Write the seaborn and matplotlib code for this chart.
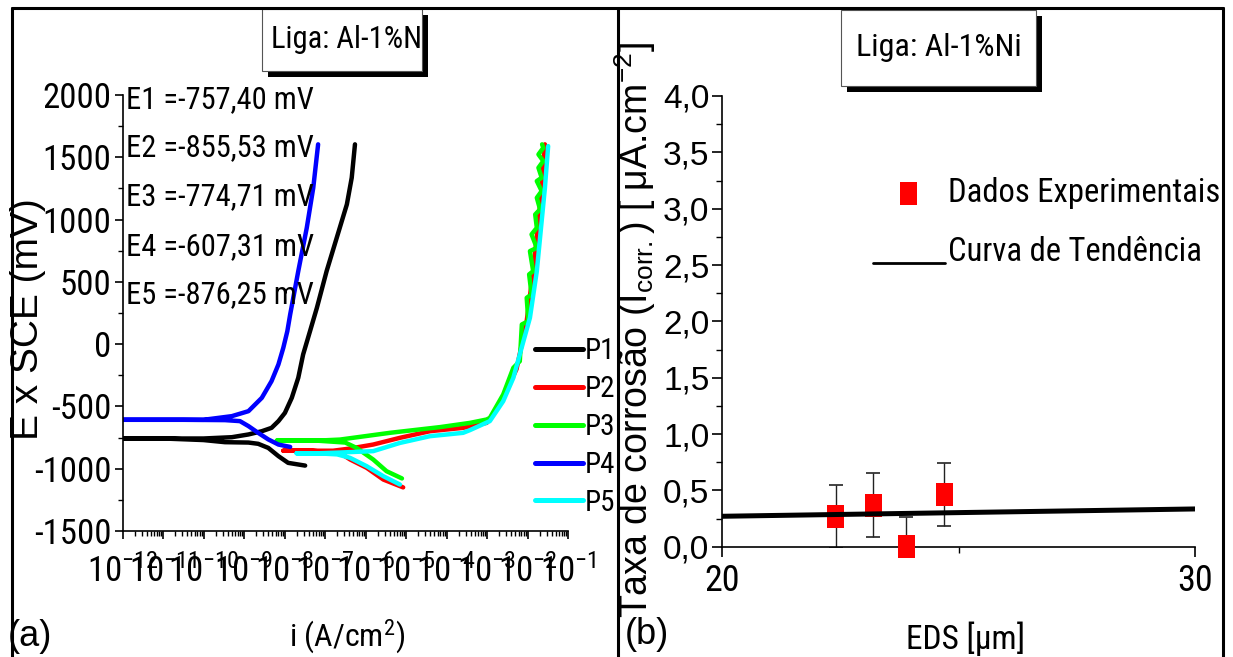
import numpy as np
import pandas as pd
import matplotlib
matplotlib.use("Agg")
import matplotlib.pyplot as plt
import seaborn as sns
from matplotlib import font_manager
from matplotlib.font_manager import FontProperties
from matplotlib.patches import Rectangle
from matplotlib.lines import Line2D
from matplotlib.path import Path
from matplotlib.transforms import Bbox, TransformedBbox
from matplotlib.ticker import LogLocator, FuncFormatter, MultipleLocator, FixedLocator, NullFormatter
from matplotlib.legend_handler import HandlerLine2D

# ---------------- (a) potentiodynamic polarization curves ----------------
CURVES = ["P1", "P2", "P3", "P4", "P5"]
COLORS = ["#000000", "#ff0000", "#00ff00", "#0000ff", "#00ffff"]
ECORR = [-757.40, -855.53, -774.71, -607.31, -876.25]  # mV

# each scan: cathodic branch -> corrosion potential -> anodic branch
# current as log10(i / A.cm^-2), potential in mV
P1_LOG_I = [-7.49, -7.91, -8.15, -8.40, -8.65, -8.89, -9.47, -10.0,
            -11.0, -12.0, -11.0, -10.0,
            -9.30, -8.89, -8.56, -8.32, -8.15, -7.99, -7.82, -7.66, -7.54,
            -7.37, -7.20, -6.96, -6.71, -6.46, -6.34, -6.26]
P1_E = [-975, -953, -899, -833, -800, -790, -787, -770,
        *[ECORR[0]] * 4,
        -747, -725, -699, -672, -618, -552, -431, -270, -83,
        104, 292, 586, 854, 1122, 1336, 1604]

P2_LOG_I = [-5.07, -5.56, -5.97, -6.38, -6.60,
            -7.30, -8.03, -7.30, -6.80,
            -6.38, -5.81, -5.15, -4.41, -3.59, -3.01, -2.93, -2.60, -2.27,
            -2.02, -1.86, -1.73, -1.65, -1.57]
P2_E = [-1150, -1087, -993, -926, -880,
        *[ECORR[1]] * 4,
        -838, -806, -752, -699, -672, -632, -600, -431, -200,
        185, 586, 988, 1255, 1604]

P3_LOG_I = [-5.10, -5.48, -5.81, -6.22, -6.50,
            -7.20, -8.19, -7.20,
            -6.63, -5.40, -4.16, -3.42, -3.01, -2.93, -2.60, -2.35, -2.19,
            -2.14, -1.98, -2.02, -1.90, -1.96, -1.86, -1.94, -1.77, -1.90,
            -1.77, -1.81, -1.69, -1.77, -1.65, -1.77, -1.65, -1.73, -1.61,
            -1.73, -1.61, -1.64]
P3_E = [-1078, -1020, -926, -833, -790,
        *[ECORR[2]] * 3,
        -766, -712, -666, -632, -605, -592, -404, -190, -137,
        158, 185, 372, 399, 560, 586, 747, 773, 881,
        934, 1041, 1082, 1175, 1229, 1309, 1336, 1416, 1470,
        1523, 1576, 1604]

P4_LOG_I = [-7.86, -8.15, -8.40, -8.65, -8.89, -9.10, -9.47,
            -10.5, -12.0, -10.5, -10.0,
            -9.30, -8.89, -8.56, -8.32, -8.15, -8.03, -7.93, -7.86, -7.66,
            -7.45, -7.29, -7.17]
P4_E = [-825, -806, -765, -712, -658, -618, -610,
        *[ECORR[3]] * 4,
        -578, -538, -431, -297, -163, -30, 104, 238, 586,
        934, 1255, 1604]

P5_LOG_I = [-5.15, -5.56, -5.97, -6.38, -6.70,
            -7.20, -7.70, -7.20,
            -6.63, -5.81, -5.15, -4.41, -3.59, -3.42, -2.93, -2.60, -2.35,
            -2.10, -1.94, -1.77, -1.65, -1.57, -1.49]
P5_E = [-1127, -1060, -980, -913, -885,
        *[ECORR[4]] * 3,
        -870, -859, -793, -739, -712, -690, -618, -458, -271,
        24, 211, 586, 988, 1255, 1590]

# ---------------- (b) corrosion rate vs. EDS spacing ----------------
EDS_UM = [22.4, 23.2, 23.9, 24.7]
ICORR = [0.27, 0.37, 0.00, 0.46]          # uA.cm^-2
ICORR_ERR = [0.28, 0.28, 0.26, 0.28]
TREND_X = [20, 30]
TREND_Y = [0.27, 0.335]

# ---------------- style ----------------
sns.set_theme(style="ticks")

REGULAR = "Liberation Sans"
STRETCH_RANK = {"condensed": 0, "semi-condensed": 1, "extra-condensed": 2,
                "ultra-condensed": 3}
FAMILY_RANK = {"Liberation Sans Narrow": 0, "Arial Narrow": 1, "Roboto Condensed": 2,
               "Noto Sans": 3, "Open Sans": 4, "Open Sans Condensed": 4,
               "DejaVu Sans": 5, "DejaVu Sans Condensed": 5}


def find_narrow_font():
    """Pick an installed regular-weight condensed sans face, if there is one."""
    best = None
    for f in font_manager.fontManager.ttflist:
        low = f.fname.lower()
        narrow = (f.stretch in STRETCH_RANK or "narrow" in low or "condensed" in low)
        if not narrow or f.style != "normal":
            continue
        if str(f.weight).lower() not in ("400", "normal", "regular", "book"):
            continue
        if "mono" in low or ("serif" in low and "sans" not in low):
            continue
        key = (FAMILY_RANK.get(f.name, 9),
               STRETCH_RANK.get(f.stretch, 0 if "narrow" in low else 1))
        if best is None or key < best[0]:
            best = (key, f.fname)
    return best[1] if best else None


NARROW_FILE = find_narrow_font()
NARROW_SCALE = 1.0 if NARROW_FILE else 0.8


def nfont(size):
    if NARROW_FILE:
        return FontProperties(fname=NARROW_FILE, size=size)
    return FontProperties(family=REGULAR, size=size * NARROW_SCALE)


def rfont(size):
    return FontProperties(family=REGULAR, size=size)


plt.rcParams.update({
    "font.family": [REGULAR, "DejaVu Sans"],
    "axes.unicode_minus": False,
    "mathtext.default": "regular",
    "axes.edgecolor": "black",
    "axes.labelcolor": "black",
    "axes.linewidth": 1.2,
    "xtick.color": "black",
    "ytick.color": "black",
    "text.color": "black",
})

W, H = 1233, 657
fig = plt.figure(figsize=(W / 100, H / 100), dpi=100)
fig.patch.set_facecolor("white")


def fx(px):
    return px / W


def fy(py):
    return 1 - py / H


ax1 = fig.add_axes([fx(122.5), fy(531), (568 - 122.5) / W, (531 - 95) / H])
ax2 = fig.add_axes([fx(722), fy(546.7), (1195 - 722) / W, (546.7 - 96) / H])
for ax in (ax1, ax2):
    ax.set_facecolor("white")
    ax.spines["top"].set_visible(False)
    ax.spines["right"].set_visible(False)

# region of the left panel, used to clip texts at the panel divider
left_panel_clip = TransformedBbox(Bbox([[0, 0], [fx(617), 1]]), fig.transFigure)

# ---- panel (a) ----
ax1.set_xscale("log")
frames = []
for name, li, e in zip(CURVES,
                       [P1_LOG_I, P2_LOG_I, P3_LOG_I, P4_LOG_I, P5_LOG_I],
                       [P1_E, P2_E, P3_E, P4_E, P5_E]):
    frames.append(pd.DataFrame({"curve": name, "i": 10.0 ** np.asarray(li), "E": e}))
curves = pd.concat(frames, ignore_index=True)
sns.lineplot(data=curves, x="i", y="E", hue="curve", hue_order=CURVES,
             palette=dict(zip(CURVES, COLORS)), sort=False, estimator=None,
             lw=3.2, solid_joinstyle="round", solid_capstyle="round", ax=ax1)

ax1.set_xlim(1e-12, 1e-1)
ax1.set_ylim(-1500, 2000)
ax1.yaxis.set_major_locator(MultipleLocator(500))
ax1.yaxis.set_minor_locator(MultipleLocator(250))
ax1.xaxis.set_major_locator(LogLocator(base=10, numticks=20))
ax1.xaxis.set_minor_locator(LogLocator(base=10, subs=np.arange(2, 10), numticks=20))
ax1.xaxis.set_minor_formatter(NullFormatter())
ax1.xaxis.set_major_formatter(FuncFormatter(
    lambda v, p: r"$\mathregular{10^{%d}}$" % int(round(np.log10(v)))))
ax1.tick_params(axis="both", which="major", direction="out", length=6, width=1.2)
ax1.tick_params(axis="both", which="minor", direction="out", length=3.5, width=1.0)
ax1.tick_params(axis="x", pad=11)
ax1.tick_params(axis="y", pad=2)

ax1.set_ylabel("E x SCE (mV)", fontproperties=rfont(28))
ax1.yaxis.set_label_coords(-0.172, 0.486)
ax1.set_xlabel(r"i (A/cm$^{2}$)", fontproperties=nfont(23))
ax1.xaxis.set_label_coords(0.504, -0.197)

handles, labels = ax1.get_legend_handles_labels()
leg1 = ax1.legend(handles, labels, loc="upper left", frameon=False,
                  bbox_to_anchor=(fx(535), fy(337)), bbox_transform=fig.transFigure,
                  prop=nfont(21), handlelength=1.65,
                  handletextpad=0.07, labelspacing=0.34, borderpad=0, borderaxespad=0)
for h in leg1.legend_handles:
    h.set_linewidth(3.6)
for t in leg1.get_texts():
    t.set_clip_box(left_panel_clip)
    t.set_clip_on(True)

for k, (ec, ypx) in enumerate(zip(ECORR, [100, 148, 197, 247, 295])):
    txt = f"E{k + 1} ={ec:.2f} mV".replace(".", ",")
    fig.text(fx(126), fy(ypx), txt, fontproperties=nfont(22), va="center", ha="left")

# ---- panel (b) ----
rect_marker = Path([(-0.37, -0.5), (0.37, -0.5), (0.37, 0.5), (-0.37, 0.5), (-0.37, -0.5)],
                   closed=True)
ax2.errorbar(EDS_UM, ICORR, yerr=ICORR_ERR, fmt="none", ecolor="#222222",
             elinewidth=1.0, capsize=4.7, capthick=1.2, zorder=2)
sns.scatterplot(x=EDS_UM, y=ICORR, marker=rect_marker, s=274, color="#ff0000",
                edgecolor="none", linewidth=0, clip_on=False, zorder=3, ax=ax2,
                label="Dados Experimentais")
sns.lineplot(x=TREND_X, y=TREND_Y, color="black", lw=3.6, zorder=4, ax=ax2,
             label="Curva de Tendência")

ax2.set_xlim(20, 30)
ax2.set_ylim(0, 4)
ax2.xaxis.set_major_locator(FixedLocator([20, 30]))
ax2.xaxis.set_minor_locator(FixedLocator([25]))
ax2.yaxis.set_major_locator(MultipleLocator(0.5))
ax2.yaxis.set_minor_locator(MultipleLocator(0.25))
ax2.yaxis.set_major_formatter(FuncFormatter(lambda v, p: f"{v:.1f}".replace(".", ",")))
ax2.tick_params(axis="both", which="major", direction="out", length=7, width=1.2)
ax2.tick_params(axis="both", which="minor", direction="out", length=4, width=1.0)
ax2.tick_params(axis="x", pad=5)
ax2.tick_params(axis="y", pad=2)

ax2.set_ylabel(r"Taxa de corrosão (I$_{corr.}$) [ μA.cm$^{-2}$]", fontproperties=rfont(27))
ax2.yaxis.set_label_coords(-0.135, 0.481)
ax2.set_xlabel("EDS [μm]", fontproperties=nfont(24))
ax2.xaxis.set_label_coords(0.514, -0.165)


class LoweredLine(HandlerLine2D):
    """Legend line drawn near the text baseline, like an underscore."""

    def create_artists(self, legend, orig_handle, xdescent, ydescent, width, height,
                       fontsize, trans):
        arts = super().create_artists(legend, orig_handle, xdescent, ydescent, width,
                                      height, fontsize, trans)
        for a in arts:
            a.set_ydata(np.asarray(a.get_ydata(), dtype=float) - 0.6 * height)
        return arts


h2, l2 = ax2.get_legend_handles_labels()
leg2 = ax2.legend(h2, l2, loc="upper left", frameon=False,
                  bbox_to_anchor=(fx(873), fy(177)), bbox_transform=fig.transFigure,
                  prop=nfont(23.5), handlelength=2.2,
                  handletextpad=0.1, labelspacing=0.82, borderpad=0, borderaxespad=0,
                  handler_map={Line2D: LoweredLine()})
for h in leg2.legend_handles:
    if isinstance(h, Line2D):
        h.set_linewidth(2.0)

# ---- panel tags ----
fig.text(fx(30), fy(637), "(a)", fontproperties=rfont(26), ha="center", va="center")
fig.text(fx(647), fy(635), "(b)", fontproperties=rfont(26), ha="center", va="center")

# ---- title boxes with drop shadow ----
for (x0, y0, x1, y1), tx, ha, size in [((262, 9, 422, 71), 271, "left", 22),
                                       ((841, 10, 1036, 86), 939, "center", 23)]:
    shadow = Rectangle((fx(x0 + 6), fy(y1 + 6)), (x1 - x0) / W, (y1 - y0) / H,
                       transform=fig.transFigure, facecolor="black", edgecolor="none",
                       zorder=5)
    box = Rectangle((fx(x0), fy(y1)), (x1 - x0) / W, (y1 - y0) / H,
                    transform=fig.transFigure, facecolor="white", edgecolor="#555555",
                    lw=0.8, zorder=6)
    fig.add_artist(shadow)
    fig.add_artist(box)
    t = fig.text(fx(tx), fy((y0 + y1) / 2), "Liga: Al-1%Ni",
                 fontproperties=nfont(size), ha=ha, va="center", zorder=7)
    t.set_clip_path(box)

# ---- outer frame ----
for xs, ys in [([12, 12], [8, 657]), ([618, 618], [8, 657]), ([1223, 1223], [8, 657]),
               ([12, 1223], [8, 8])]:
    fig.add_artist(Line2D([fx(v) for v in xs], [fy(v) for v in ys],
                          transform=fig.transFigure, color="black", lw=2.2, zorder=8))

# tick label fonts (set once the tick labels exist)
fig.canvas.draw()
for lbl in ax1.get_xticklabels():
    lbl.set_fontproperties(nfont(25))
for lbl in ax1.get_yticklabels():
    lbl.set_fontproperties(nfont(25))
for lbl in ax2.get_xticklabels():
    lbl.set_fontproperties(nfont(26))
for lbl in ax2.get_yticklabels():
    lbl.set_fontproperties(rfont(24))

fig.savefig("out.png", dpi=100, facecolor="white")
